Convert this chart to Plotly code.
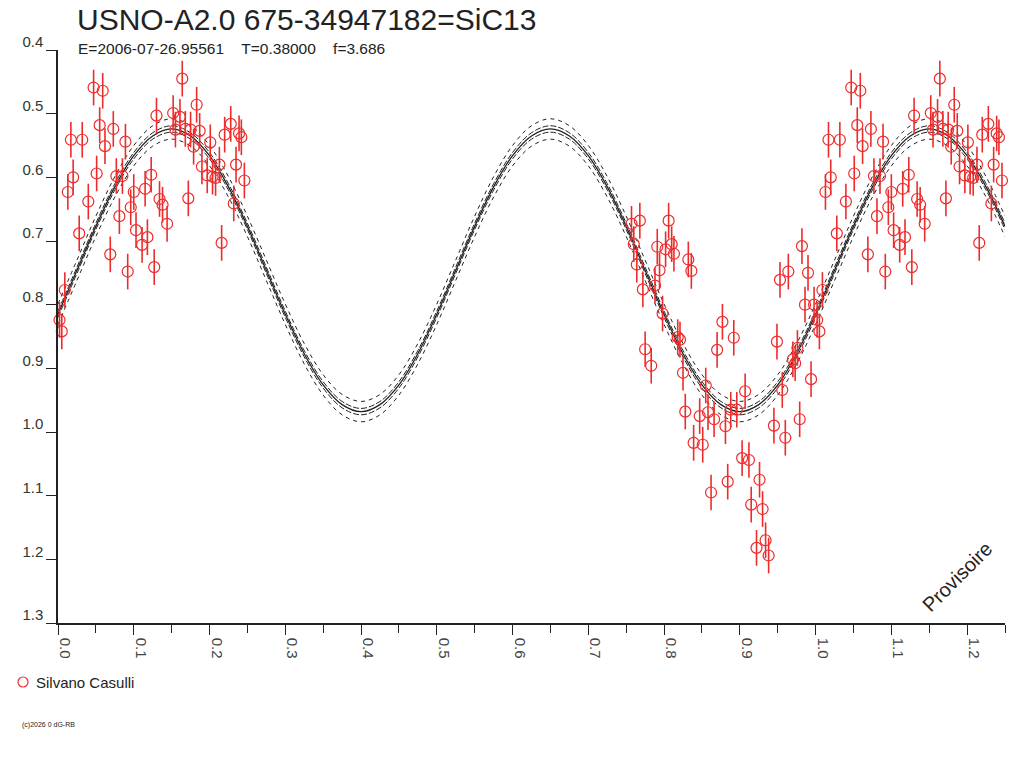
import plotly.graph_objects as go

phase_obs = [0.002, 0.005, 0.009, 0.013, 0.017, 0.020, 0.028, 0.032, 0.040, 0.047,
             0.051, 0.055, 0.059, 0.062, 0.069, 0.073, 0.077, 0.081, 0.085, 0.089,
             0.092, 0.096, 0.100, 0.103, 0.111, 0.115, 0.118, 0.123, 0.127, 0.130,
             0.134, 0.138, 0.144, 0.152, 0.155, 0.161, 0.164, 0.168, 0.172, 0.175,
             0.179, 0.183, 0.187, 0.190, 0.197, 0.201, 0.204, 0.208, 0.213, 0.216,
             0.220, 0.228, 0.232, 0.235, 0.239, 0.242, 0.246,
             0.757, 0.768, 0.760, 0.764, 0.772, 0.775, 0.783, 0.788, 0.791, 0.794,
             0.798, 0.802, 0.806, 0.810, 0.813, 0.818, 0.821, 0.825, 0.828, 0.832,
             0.836, 0.839, 0.847, 0.851, 0.855, 0.858, 0.862, 0.866, 0.870, 0.877,
             0.881, 0.884, 0.888, 0.892, 0.896, 0.903, 0.907, 0.912, 0.915, 0.922,
             0.926, 0.930, 0.934, 0.938, 0.945, 0.949, 0.953, 0.956, 0.960, 0.964,
             0.970, 0.973, 0.976, 0.979, 0.982, 0.986, 0.990, 0.994, 0.998]
mag_obs = [0.824, 0.842, 0.777, 0.623, 0.541, 0.600, 0.688, 0.541, 0.638, 0.459,
           0.594, 0.518, 0.464, 0.551, 0.721, 0.524, 0.598, 0.661, 0.598, 0.544,
           0.748, 0.647, 0.623, 0.683, 0.706, 0.618, 0.694, 0.596, 0.741, 0.503,
           0.634, 0.643, 0.673, 0.499, 0.525, 0.505, 0.445, 0.524, 0.633, 0.525,
           0.552, 0.486, 0.527, 0.583, 0.597, 0.545, 0.599, 0.601, 0.580, 0.703,
           0.533, 0.516, 0.641, 0.580, 0.531, 0.537, 0.605,
           0.673, 0.668, 0.705, 0.737, 0.776, 0.870, 0.896, 0.770, 0.709, 0.746,
           0.814, 0.713, 0.668, 0.705, 0.720, 0.851, 0.855, 0.907, 0.968, 0.729,
           0.747, 1.017, 0.975, 1.020, 0.927, 0.969, 1.095, 0.980, 0.871, 0.827,
           0.991, 1.078, 0.965, 0.852, 0.965, 1.041, 0.936, 1.044, 1.114, 1.182,
           1.075, 1.121, 1.170, 1.194, 0.990, 0.858, 0.761, 0.934, 1.009, 0.748,
           0.886, 0.892, 0.868, 0.980, 0.708, 0.800, 0.750, 0.917, 0.800]
mag_err = 0.028

# fitted model curve
model_phase = [0.000, 0.025, 0.050, 0.075, 0.100, 0.125, 0.150, 0.175, 0.200, 0.225,
               0.250, 0.275, 0.300, 0.325, 0.350, 0.375, 0.400, 0.425, 0.450, 0.475,
               0.500, 0.525, 0.550, 0.575, 0.600, 0.625, 0.650, 0.675, 0.700, 0.725,
               0.750, 0.775, 0.800, 0.825, 0.850, 0.875, 0.900, 0.925, 0.950, 0.975,
               1.000, 1.025, 1.050, 1.075, 1.100, 1.125, 1.150, 1.175, 1.200, 1.225,
               1.250]
model_mag = [0.815, 0.746, 0.677, 0.615, 0.566, 0.535, 0.524, 0.535, 0.566, 0.615,
             0.677, 0.746, 0.815, 0.877, 0.926, 0.957, 0.968, 0.957, 0.926, 0.877,
             0.815, 0.746, 0.677, 0.615, 0.566, 0.535, 0.524, 0.535, 0.566, 0.615,
             0.677, 0.746, 0.815, 0.877, 0.926, 0.957, 0.968, 0.957, 0.926, 0.877,
             0.815, 0.746, 0.677, 0.615, 0.566, 0.535, 0.524, 0.535, 0.566, 0.615,
             0.677]
band_inner = 0.005
band_outer = 0.016

y_ticks = [0.4, 0.5, 0.6, 0.7, 0.8, 0.9, 1.0, 1.1, 1.2, 1.3]
x_ticks = [0.0, 0.1, 0.2, 0.3, 0.4, 0.5, 0.6, 0.7, 0.8, 0.9, 1.0, 1.1, 1.2]

# repeat the first quarter of the phase after 1.0
plot_phase = phase_obs + [p + 1 for p in phase_obs if p < 0.25]
plot_mag = mag_obs + [m for p, m in zip(phase_obs, mag_obs) if p < 0.25]

FONT = "Liberation Sans, Arial, sans-serif"
RED = "#ee2b2b"
INK = "#222222"

# page body margin is removed below, so screen pixels = figure pixels
W, H = 1024, 768
L, R, T, B = 58, 1005, 50, 623


def px(xs):
    return (xs - L) / (R - L)


def py(ys):
    return (B - ys) / (B - T)


fig = go.Figure()

# model and its envelopes
for off, dash, w in [(band_outer, "4px,4px", 1), (-band_outer, "4px,4px", 1),
                     (band_inner, "6px,2px", 1), (-band_inner, "6px,2px", 1),
                     (0, "solid", 1.3)]:
    fig.add_trace(go.Scatter(
        x=model_phase, y=[m + off for m in model_mag],
        mode="lines", line=dict(color=INK, width=w, dash=dash, shape="spline"),
        hoverinfo="skip", showlegend=False))

fig.add_trace(go.Scatter(
    x=plot_phase, y=plot_mag, mode="markers", name="Silvano Casulli",
    marker=dict(symbol="circle-open", size=11, color=RED, line=dict(width=1.2, color=RED)),
    error_y=dict(type="constant", value=mag_err, width=0, thickness=1.6, color=RED),
    cliponaxis=False, showlegend=False))

sp = "\u00a0" * 4
fig.update_layout(
    width=W, height=H,
    paper_bgcolor="white", plot_bgcolor="white",
    margin=dict(l=L, r=W - R, t=T, b=H - B, autoexpand=False),
    font=dict(family=FONT, color=INK),
    title=dict(text="USNO-A2.0 675-34947182=SiC13", x=77 / W, xanchor="left",
               y=1 - 19 / H, yanchor="middle", font=dict(size=30, color=INK)),
    showlegend=False,
    xaxis=dict(range=[0, 1.25], tickvals=x_ticks, tickformat=".1f", tickangle=90,
               ticks="outside", ticklen=10, tickwidth=1.3, tickcolor=INK,
               ticklabelshift=7, automargin=False,
               minor=dict(dtick=0.05, tick0=0, ticks="outside", ticklen=8, tickcolor=INK),
               showline=True, linecolor=INK, linewidth=1.5, showgrid=False, zeroline=False,
               tickfont=dict(size=15, color="#444")),
    yaxis=dict(range=[1.3, 0.4], tickvals=y_ticks, tickformat=".1f",
               ticks="outside", ticklen=10, tickwidth=1.3, tickcolor=INK,
               ticklabelshift=8, automargin=False,
               showline=True, linecolor=INK, linewidth=1.5, showgrid=False, zeroline=False,
               tickfont=dict(size=15, color="#333")),
    shapes=[
        dict(type="circle", xref="paper", yref="paper",
             x0=px(18), x1=px(28), y0=py(687), y1=py(677),
             line=dict(color=RED, width=1.2)),
    ],
    annotations=[
        dict(text="E=2006-07-26.95561" + sp + "T=0.38000" + sp + "f=3.686",
             xref="paper", yref="paper", x=px(76), y=py(48),
             xanchor="left", yanchor="middle", showarrow=False,
             font=dict(size=15.5, color=INK)),
        dict(text="Silvano Casulli", xref="paper", yref="paper", x=px(34), y=py(682),
             xanchor="left", yanchor="middle", showarrow=False,
             font=dict(size=15, color=INK)),
        dict(text="Provisoire", xref="paper", yref="paper",
             x=px(957), y=py(577), xanchor="center", yanchor="middle",
             textangle=-45, showarrow=False, font=dict(size=20, color=INK)),
        dict(text="(c)2026 0 dG-RB", xref="paper", yref="paper",
             x=px(20), y=py(725), xanchor="left", yanchor="middle",
             showarrow=False, font=dict(size=7, color=INK)),
    ],
)

fig.write_html("out.html", config={"displayModeBar": False},
               post_script="document.body.style.margin='0';document.body.style.overflow='hidden';")
